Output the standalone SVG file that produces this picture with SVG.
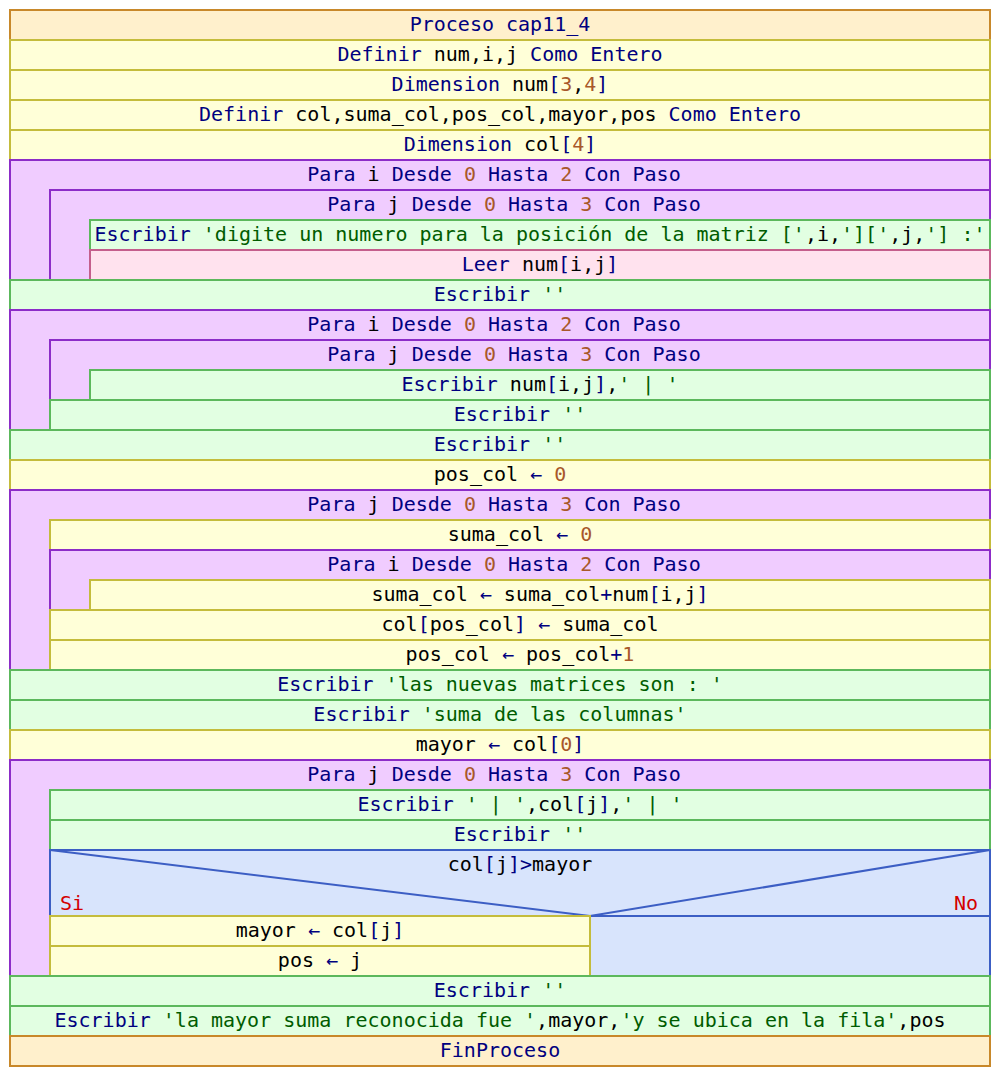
<svg xmlns="http://www.w3.org/2000/svg" width="1000" height="1076" viewBox="0 0 1000 1076">
<style>
.t{font-family:"DejaVu Sans Mono","Liberation Mono",monospace;font-size:20px;fill:#000;text-anchor:middle;white-space:pre}
.k{fill:#00007f}
.n{fill:#a8582a}
.s{fill:#005c00}
.r{fill:#d40000}
.proc{fill:#fff0cc;stroke:#c8882a;stroke-width:2}
.asg{fill:#ffffd8;stroke:#c4bc3c;stroke-width:2}
.loop{fill:#f0ccff;stroke:#8c2cc8;stroke-width:2}
.out{fill:#e2ffe2;stroke:#5cb85c;stroke-width:2}
.in{fill:#ffe2ee;stroke:#c45e8c;stroke-width:2}
.cond{fill:#d8e4fc;stroke:#3c5ec4;stroke-width:2}
.cl{stroke:#3c5ec4;stroke-width:2;fill:none}
</style>
<rect width="1000" height="1076" fill="#fff"/>

<g id="proceso">
<rect class="proc" x="10" y="10" width="980" height="30"/>
<text class="t k" x="500" y="31" xml:space="preserve">Proceso cap11_4</text>
</g>
<g id="def1">
<rect class="asg" x="10" y="40" width="980" height="30"/>
<text class="t" x="500" y="61" xml:space="preserve"><tspan class="k">Definir</tspan> num,i,j <tspan class="k">Como Entero</tspan></text>
</g>
<g id="dim1">
<rect class="asg" x="10" y="70" width="980" height="30"/>
<text class="t" x="500" y="91" xml:space="preserve"><tspan class="k">Dimension</tspan> num<tspan class="k">[</tspan><tspan class="n">3</tspan>,<tspan class="n">4</tspan><tspan class="k">]</tspan></text>
</g>
<g id="def2">
<rect class="asg" x="10" y="100" width="980" height="30"/>
<text class="t" x="500" y="121" xml:space="preserve"><tspan class="k">Definir</tspan> col,suma_col,pos_col,mayor,pos <tspan class="k">Como Entero</tspan></text>
</g>
<g id="dim2">
<rect class="asg" x="10" y="130" width="980" height="30"/>
<text class="t" x="500" y="151" xml:space="preserve"><tspan class="k">Dimension</tspan> col<tspan class="k">[</tspan><tspan class="n">4</tspan><tspan class="k">]</tspan></text>
</g>

<!-- reading loop -->
<g id="loop1">
<rect class="loop" x="10" y="160" width="980" height="120"/>
<text class="t" x="494" y="181" xml:space="preserve"><tspan class="k">Para</tspan> i <tspan class="k">Desde</tspan> <tspan class="n">0</tspan> <tspan class="k">Hasta</tspan> <tspan class="n">2</tspan> <tspan class="k">Con Paso</tspan></text>
</g>
<g id="loop1j">
<rect class="loop" x="50" y="190" width="940" height="90"/>
<text class="t" x="514" y="211" xml:space="preserve"><tspan class="k">Para</tspan> j <tspan class="k">Desde</tspan> <tspan class="n">0</tspan> <tspan class="k">Hasta</tspan> <tspan class="n">3</tspan> <tspan class="k">Con Paso</tspan></text>
</g>
<g id="prompt">
<rect class="out" x="90" y="220" width="900" height="30"/>
<text class="t" x="540" y="241" xml:space="preserve"><tspan class="k">Escribir</tspan> <tspan class="s">'digite un numero para la posición de la matriz ['</tspan>,i,<tspan class="s">']['</tspan>,j,<tspan class="s">'] :'</tspan></text>
</g>
<g id="leer">
<rect class="in" x="90" y="250" width="900" height="30"/>
<text class="t" x="540" y="271" xml:space="preserve"><tspan class="k">Leer</tspan> num<tspan class="k">[</tspan>i,j<tspan class="k">]</tspan></text>
</g>
<g id="blank1">
<rect class="out" x="10" y="280" width="980" height="30"/>
<text class="t" x="500" y="301" xml:space="preserve"><tspan class="k">Escribir</tspan> <tspan class="s">''</tspan></text>
</g>

<!-- printing loop -->
<g id="loop2">
<rect class="loop" x="10" y="310" width="980" height="120"/>
<text class="t" x="494" y="331" xml:space="preserve"><tspan class="k">Para</tspan> i <tspan class="k">Desde</tspan> <tspan class="n">0</tspan> <tspan class="k">Hasta</tspan> <tspan class="n">2</tspan> <tspan class="k">Con Paso</tspan></text>
</g>
<g id="loop2j">
<rect class="loop" x="50" y="340" width="940" height="60"/>
<text class="t" x="514" y="361" xml:space="preserve"><tspan class="k">Para</tspan> j <tspan class="k">Desde</tspan> <tspan class="n">0</tspan> <tspan class="k">Hasta</tspan> <tspan class="n">3</tspan> <tspan class="k">Con Paso</tspan></text>
</g>
<g id="printcell">
<rect class="out" x="90" y="370" width="900" height="30"/>
<text class="t" x="540" y="391" xml:space="preserve"><tspan class="k">Escribir</tspan> num<tspan class="k">[</tspan>i,j<tspan class="k">]</tspan>,<tspan class="s">' | '</tspan></text>
</g>
<g id="blank2">
<rect class="out" x="50" y="400" width="940" height="30"/>
<text class="t" x="520" y="421" xml:space="preserve"><tspan class="k">Escribir</tspan> <tspan class="s">''</tspan></text>
</g>
<g id="blank3">
<rect class="out" x="10" y="430" width="980" height="30"/>
<text class="t" x="500" y="451" xml:space="preserve"><tspan class="k">Escribir</tspan> <tspan class="s">''</tspan></text>
</g>
<g id="poscol0">
<rect class="asg" x="10" y="460" width="980" height="30"/>
<text class="t" x="500" y="481" xml:space="preserve">pos_col <tspan class="k">←</tspan> <tspan class="n">0</tspan></text>
</g>

<!-- column sums -->
<g id="loop3">
<rect class="loop" x="10" y="490" width="980" height="180"/>
<text class="t" x="494" y="511" xml:space="preserve"><tspan class="k">Para</tspan> j <tspan class="k">Desde</tspan> <tspan class="n">0</tspan> <tspan class="k">Hasta</tspan> <tspan class="n">3</tspan> <tspan class="k">Con Paso</tspan></text>
</g>
<g id="sumacol0">
<rect class="asg" x="50" y="520" width="940" height="30"/>
<text class="t" x="520" y="541" xml:space="preserve">suma_col <tspan class="k">←</tspan> <tspan class="n">0</tspan></text>
</g>
<g id="loop3i">
<rect class="loop" x="50" y="550" width="940" height="60"/>
<text class="t" x="514" y="571" xml:space="preserve"><tspan class="k">Para</tspan> i <tspan class="k">Desde</tspan> <tspan class="n">0</tspan> <tspan class="k">Hasta</tspan> <tspan class="n">2</tspan> <tspan class="k">Con Paso</tspan></text>
</g>
<g id="accum">
<rect class="asg" x="90" y="580" width="900" height="30"/>
<text class="t" x="540" y="601" xml:space="preserve">suma_col <tspan class="k">←</tspan> suma_col<tspan class="k">+</tspan>num<tspan class="k">[</tspan>i,j<tspan class="k">]</tspan></text>
</g>
<g id="store">
<rect class="asg" x="50" y="610" width="940" height="30"/>
<text class="t" x="520" y="631" xml:space="preserve">col<tspan class="k">[</tspan>pos_col<tspan class="k">]</tspan> <tspan class="k">←</tspan> suma_col</text>
</g>
<g id="inc">
<rect class="asg" x="50" y="640" width="940" height="30"/>
<text class="t" x="520" y="661" xml:space="preserve">pos_col <tspan class="k">←</tspan> pos_col<tspan class="k">+</tspan><tspan class="n">1</tspan></text>
</g>
<g id="msg1">
<rect class="out" x="10" y="670" width="980" height="30"/>
<text class="t" x="500" y="691" xml:space="preserve"><tspan class="k">Escribir</tspan> <tspan class="s">'las nuevas matrices son : '</tspan></text>
</g>
<g id="msg2">
<rect class="out" x="10" y="700" width="980" height="30"/>
<text class="t" x="500" y="721" xml:space="preserve"><tspan class="k">Escribir</tspan> <tspan class="s">'suma de las columnas'</tspan></text>
</g>
<g id="mayor0">
<rect class="asg" x="10" y="730" width="980" height="30"/>
<text class="t" x="500" y="751" xml:space="preserve">mayor <tspan class="k">←</tspan> col<tspan class="k">[</tspan><tspan class="n">0</tspan><tspan class="k">]</tspan></text>
</g>

<!-- maximum search -->
<g id="loop4">
<rect class="loop" x="10" y="760" width="980" height="216"/>
<text class="t" x="494" y="781" xml:space="preserve"><tspan class="k">Para</tspan> j <tspan class="k">Desde</tspan> <tspan class="n">0</tspan> <tspan class="k">Hasta</tspan> <tspan class="n">3</tspan> <tspan class="k">Con Paso</tspan></text>
</g>
<g id="printcol">
<rect class="out" x="50" y="790" width="940" height="30"/>
<text class="t" x="520" y="811" xml:space="preserve"><tspan class="k">Escribir</tspan> <tspan class="s">' | '</tspan>,col<tspan class="k">[</tspan>j<tspan class="k">]</tspan>,<tspan class="s">' | '</tspan></text>
</g>
<g id="blank4">
<rect class="out" x="50" y="820" width="940" height="30"/>
<text class="t" x="520" y="841" xml:space="preserve"><tspan class="k">Escribir</tspan> <tspan class="s">''</tspan></text>
</g>
<g id="cond">
<rect class="cond" x="50" y="850" width="940" height="126"/>
<g id="connectors">
<path class="cl" d="M50 850 L590 916 L990 850 M50 916 H990"/>
</g>
<text class="t" x="520" y="871" xml:space="preserve">col<tspan class="k">[</tspan>j<tspan class="k">]</tspan><tspan class="k">&gt;</tspan>mayor</text>
<text class="t r" x="60" y="910" style="text-anchor:start">Si</text>
<text class="t r" x="978" y="910" style="text-anchor:end">No</text>
</g>
<g id="setmayor">
<rect class="asg" x="50" y="916" width="540" height="30"/>
<text class="t" x="320" y="937" xml:space="preserve">mayor <tspan class="k">←</tspan> col<tspan class="k">[</tspan>j<tspan class="k">]</tspan></text>
</g>
<g id="setpos">
<rect class="asg" x="50" y="946" width="540" height="30"/>
<text class="t" x="320" y="967" xml:space="preserve">pos <tspan class="k">←</tspan> j</text>
</g>

<g id="blank5">
<rect class="out" x="10" y="976" width="980" height="30"/>
<text class="t" x="500" y="997" xml:space="preserve"><tspan class="k">Escribir</tspan> <tspan class="s">''</tspan></text>
</g>
<g id="result">
<rect class="out" x="10" y="1006" width="980" height="30"/>
<text class="t" x="500" y="1027" xml:space="preserve"><tspan class="k">Escribir</tspan> <tspan class="s">'la mayor suma reconocida fue '</tspan>,mayor,<tspan class="s">'y se ubica en la fila'</tspan>,pos</text>
</g>
<g id="finproceso">
<rect class="proc" x="10" y="1036" width="980" height="30"/>
<text class="t k" x="500" y="1057" xml:space="preserve">FinProceso</text>
</g>
</svg>
